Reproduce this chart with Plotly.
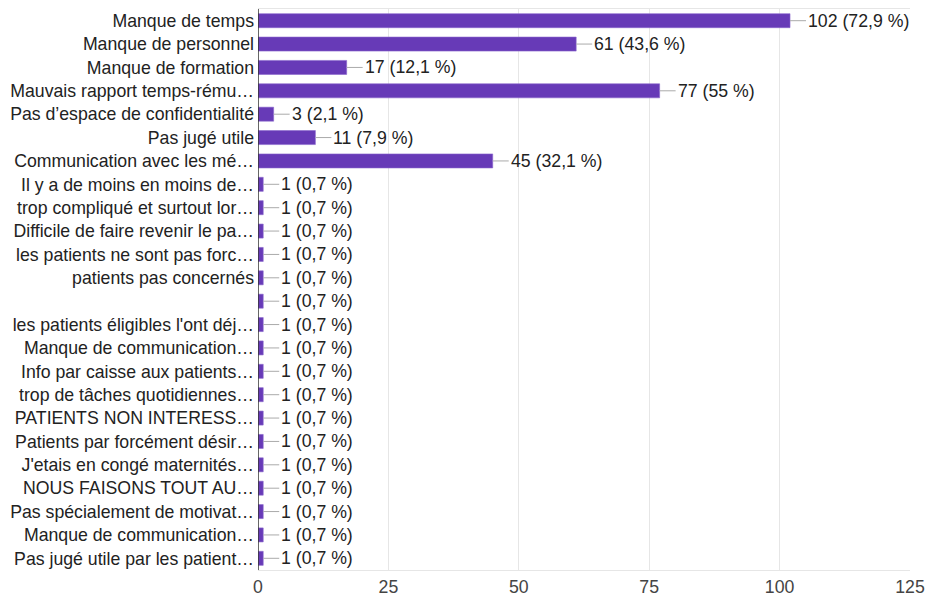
import plotly.graph_objects as go

# Survey answers (reasons), in display order from top to bottom
categories = [
    "Manque de temps",
    "Manque de personnel",
    "Manque de formation",
    "Mauvais rapport temps-rému…",
    "Pas d’espace de confidentialité",
    "Pas jugé utile",
    "Communication avec les mé…",
    "Il y a de moins en moins de…",
    "trop compliqué et surtout lor…",
    "Difficile de faire revenir le pa…",
    "les patients ne sont pas forc…",
    "patients pas concernés",
    "",
    "les patients éligibles l'ont déj…",
    "Manque de communication…",
    "Info par caisse aux patients…",
    "trop de tâches quotidiennes…",
    "PATIENTS NON INTERESS…",
    "Patients par forcément désir…",
    "J'etais en congé maternités…",
    "NOUS FAISONS TOUT AU…",
    "Pas spécialement de motivat…",
    "Manque de communication…",
    "Pas jugé utile par les patient…",
]
counts = [102, 61, 17, 77, 3, 11, 45] + [1] * 17
percents = ["72,9", "43,6", "12,1", "55", "2,1", "7,9", "32,1"] + ["0,7"] * 17
x_ticks = [0, 25, 50, 75, 100, 125]

positions = list(range(len(categories)))
purple = "#673AB7"
font_family = "Liberation Sans, Arial, sans-serif"
fsize = 17.7

fig = go.Figure(
    go.Bar(
        x=counts,
        y=positions,
        orientation="h",
        marker=dict(color=purple, line=dict(color="#8a66cc", width=0.6)),
        width=0.6,
        hoverinfo="skip",
    )
)

# Value labels joined to the bar ends by a short grey leader
for pos, c, p in zip(positions, counts, percents):
    fig.add_annotation(
        x=c, y=pos, xref="x", yref="y",
        text=f"{c} ({p} %)",
        showarrow=True, arrowhead=0, arrowwidth=1, arrowcolor="#aaaaaa",
        ax=16, ay=0, xanchor="left", yanchor="middle",
        standoff=0, startstandoff=0,
        font=dict(family=font_family, size=fsize, color="#222222"),
    )

fig.update_layout(
    width=928, height=598,
    margin=dict(l=258, r=18, t=9, b=28, autoexpand=False),
    paper_bgcolor="white", plot_bgcolor="white",
    showlegend=False,
    font=dict(family=font_family, size=fsize, color="#222222"),
    xaxis=dict(
        range=[0, 125], tickvals=x_ticks, ticks="",
        showgrid=True, gridcolor="#e6e6e6", gridwidth=1,
        zeroline=False, showline=True, linecolor="#e6e6e6", mirror=True,
        tickfont=dict(size=fsize, color="#444444"), fixedrange=True,
        automargin=False, ticklabelstandoff=1,
    ),
    yaxis=dict(
        tickvals=positions, ticktext=categories,
        range=[len(categories) - 0.5, -0.5],
        showgrid=False, zeroline=False, ticks="",
        showline=False, ticklabelstandoff=3, automargin=False,
        tickfont=dict(size=fsize, color="#222222"), fixedrange=True,
    ),
)

# Dark baseline at zero
fig.add_shape(type="line", xref="x", yref="paper", x0=0, x1=0, y0=0, y1=1,
              line=dict(color="#333333", width=1.5))

fig.write_html("out.html")
